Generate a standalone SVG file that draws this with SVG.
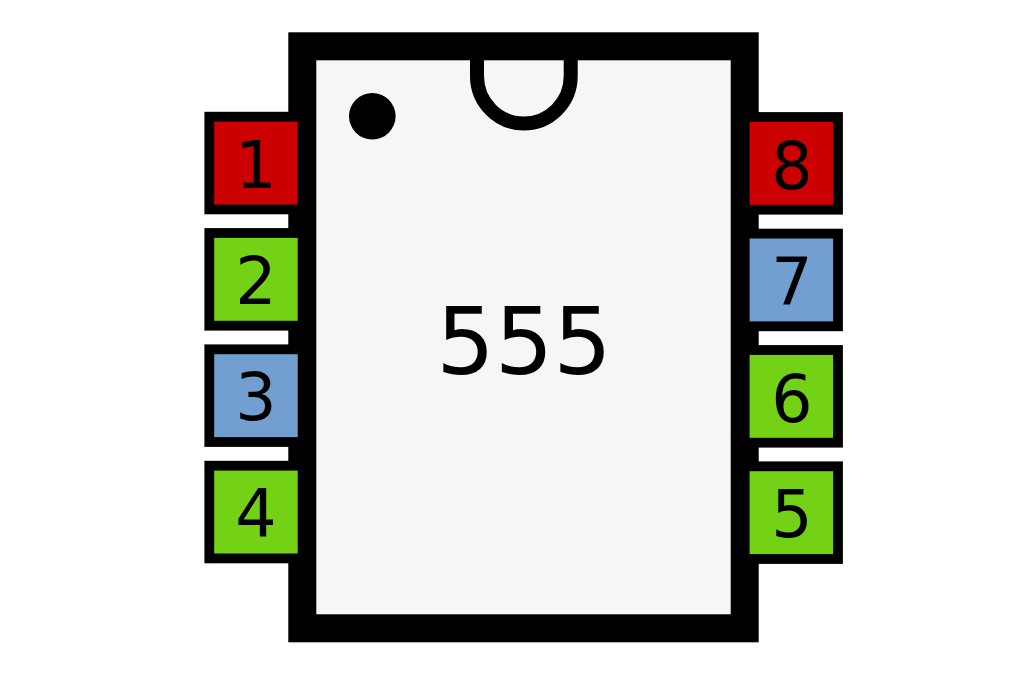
<svg xmlns="http://www.w3.org/2000/svg" width="1024" height="675" viewBox="0 0 1024 675">
<style>
text{font-family:"DejaVu Sans",sans-serif;text-anchor:middle;fill:#000}
.p{stroke:#000;stroke-width:9.8}
.n{font-size:65px}
.r{fill:#cc0000}.g{fill:#73d216}.b{fill:#729fcf}
</style>
<rect width="1024" height="675" fill="#fff"/>
<g id="chip">
<rect x="302.300" y="46.300" width="442.400" height="582" fill="#f6f6f6" stroke="#000" stroke-width="28"/>
<path d="M477 55V76A46.850 47.500 0 0 0 570.700 76V55" fill="none" stroke="#000" stroke-width="14"/>
<circle cx="372.300" cy="116.200" r="23.300" fill="#000"/>
<text x="524" y="374" font-size="92">555</text>
</g>
<g id="pin1"><rect class="p r" x="209.300" y="116.700" width="93.300" height="92.700"/><text class="n" x="256" y="188">1</text></g>
<g id="pin2"><rect class="p g" x="209.300" y="233" width="93.300" height="92.700"/><text class="n" x="256" y="304.300">2</text></g>
<g id="pin3"><rect class="p b" x="209.300" y="349.300" width="93.300" height="92.700"/><text class="n" x="256" y="420.300">3</text></g>
<g id="pin4"><rect class="p g" x="209.300" y="465.700" width="93.300" height="92.700"/><text class="n" x="256" y="536">4</text></g>
<g id="pin8"><rect class="p r" x="744.700" y="117" width="93.300" height="92.700"/><text class="n" x="792" y="188.700">8</text></g>
<g id="pin7"><rect class="p b" x="744.700" y="233.600" width="93.300" height="92.700"/><text class="n" x="792" y="305">7</text></g>
<g id="pin6"><rect class="p g" x="744.700" y="350" width="93.300" height="92.700"/><text class="n" x="792" y="421.500">6</text></g>
<g id="pin5"><rect class="p g" x="744.700" y="466.300" width="93.300" height="92.700"/><text class="n" x="792" y="537.300">5</text></g>
<g id="connectors"/>
</svg>
